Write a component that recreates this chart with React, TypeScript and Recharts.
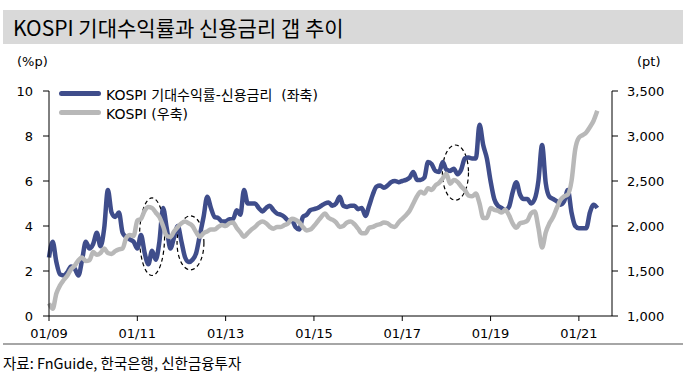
import React from 'react';
import { LineChart, Line, XAxis, YAxis, ReferenceArea } from 'recharts';

// Monthly data, Jan 2009 (index 0) to Jun 2021 (index 149)
const gapValues = [
  2.6, 3.3, 2.4, 1.85, 1.8, 1.95, 2.2, 2.1, 1.8, 2.5,
  3.3, 3.0, 3.2, 3.7, 3.1, 3.9, 5.6, 4.6, 4.4, 4.6,
  3.7, 3.5, 3.4, 3.3, 3.0, 3.6, 2.8, 2.3, 2.9, 2.5,
  3.3, 4.8, 3.9, 3.0, 3.5, 4.0, 3.3, 2.6, 2.4, 2.5,
  2.8, 3.6, 4.4, 5.3, 4.8, 4.4, 4.35, 4.2, 4.2, 4.3,
  4.3, 4.7, 4.5, 5.6, 5.0, 5.0, 5.0, 4.8, 4.65, 4.8,
  4.9, 4.7, 4.55, 4.5, 4.4, 4.25, 4.25, 3.95, 3.85, 4.4,
  4.5, 4.7, 4.75, 4.8, 4.9, 5.0, 5.05, 4.9, 5.0, 5.3,
  4.9, 4.85, 4.9, 4.9, 4.75, 4.8, 4.45, 4.9, 5.4, 5.75,
  5.8, 5.7, 5.8, 5.95, 6.0, 5.95, 6.0, 6.05, 6.15, 6.4,
  6.05, 6.05, 6.15, 6.85, 6.75, 6.45, 6.4, 6.85, 6.5, 6.45,
  6.55, 6.3, 6.5, 7.0, 7.05, 7.0, 7.0, 8.5, 7.6, 7.0,
  6.0, 5.2, 4.9, 4.8, 4.7, 4.85, 5.5, 5.95, 5.4, 5.2,
  5.2, 5.0, 5.2, 6.0, 7.6, 5.9, 5.3, 5.2, 5.1, 4.95,
  5.1, 5.6, 4.6, 4.0, 3.9, 3.9, 3.9, 4.6, 4.95, 4.8,
];

const kospiValues = [
  1140, 1080, 1250, 1340, 1400, 1450, 1520, 1560, 1620, 1650,
  1610, 1620, 1710, 1680, 1700, 1750, 1700, 1690, 1720, 1740,
  1750, 1870, 1900, 1890, 2060, 2080, 2170, 2210, 2200, 2150,
  2100, 2000, 1890, 1880, 1940, 1990, 2030, 2050, 2030, 2000,
  1930, 1880, 1920, 1940, 1960, 1960, 1990, 2010, 2000, 2030,
  2040, 1980, 1930, 1880, 1920, 1960, 1990, 2030, 2050, 2030,
  1990, 1970, 1990, 1990, 2010, 2030, 2080, 2070, 2040, 1990,
  1950, 1960, 2000, 2050, 2100, 2140, 2090, 2070, 2040, 1990,
  2000, 2040, 2050, 2020, 1970, 1920, 1920, 1980, 1990, 2010,
  2020, 2040, 2030, 2000, 1990, 2040, 2080, 2120, 2170, 2250,
  2330, 2380, 2360, 2420, 2400, 2450, 2480, 2530, 2580, 2470,
  2510, 2490, 2440, 2400, 2340, 2330, 2360, 2250, 2090, 2090,
  2200, 2180, 2170, 2150, 2180, 2120, 2030, 1980, 2030, 2040,
  2060, 2140, 2160, 1980, 1760, 1930, 2030, 2100, 2200, 2290,
  2330, 2350, 2500, 2850, 2980, 3010, 3040, 3100, 3170, 3280,
];

const xTickIndex = [0, 24, 48, 72, 96, 120, 144];
const xTickLabels = ['01/09', '01/11', '01/13', '01/15', '01/17', '01/19', '01/21'];
const leftTicks = [0, 2, 4, 6, 8, 10];
const rightTicks = [1000, 1500, 2000, 2500, 3000, 3500];

const seriesNames = ['KOSPI 기대수익률-신용금리  (좌축)', 'KOSPI (우축)'];
const title = 'KOSPI 기대수익률과 신용금리 갭 추이';
const source = '자료: FnGuide, 한국은행, 신한금융투자';

// highlighted regions (month index range, left-axis value range)
const highlights = [
  { x1: 24.6, x2: 31.4, y1: 1.8, y2: 5.25 },
  { x1: 34.8, x2: 42.1, y1: 2.05, y2: 4.45 },
  { x1: 106.9, x2: 114.0, y1: 5.15, y2: 7.6 },
];

const data = gapValues.map((g, i) => ({ t: i, gap: g, kospi: kospiValues[i] }));

const BLUE = '#3f4d8b';
const GREY = '#b8b8b8';
const tickFont = { fontFamily: "'DejaVu Sans', sans-serif", fontSize: 13, fill: '#000' };

const EllipseShape = (props: any) => {
  const { x, y, width, height } = props;
  return (
    <ellipse
      cx={x + width / 2}
      cy={y + height / 2}
      rx={Math.abs(width) / 2}
      ry={Math.abs(height) / 2}
      fill="none"
      stroke="#000"
      strokeWidth={1.2}
      strokeDasharray="4 3"
    />
  );
};

export default function App() {
  return (
    <div style={{ position: 'absolute', left: 0, top: 0, width: 683, height: 380, background: '#fff', overflow: 'hidden' }}>
      <div style={{ position: 'absolute', left: 3, top: 10, width: 680, height: 34, background: '#d9d9d9' }} />
      <div
        style={{
          position: 'absolute', left: 13, top: 10, height: 34, lineHeight: '34px',
          fontFamily: "'Noto Sans CJK KR', sans-serif", fontSize: 21, color: '#000', whiteSpace: 'nowrap',
        }}
      >
        {title}
      </div>
      <div style={{ position: 'absolute', left: 17, top: 53, lineHeight: '18px', fontFamily: "'DejaVu Sans', sans-serif", fontSize: 13 }}>(%p)</div>
      <div style={{ position: 'absolute', left: 637, top: 53, lineHeight: '18px', fontFamily: "'DejaVu Sans', sans-serif", fontSize: 13 }}>(pt)</div>

      <div style={{ position: 'absolute', left: 0, top: 0 }}>
        <LineChart width={683} height={380} data={data} margin={{ top: 91, right: 0, bottom: 34, left: 0 }}>
          <XAxis
            dataKey="t"
            type="number"
            domain={[0, 153]}
            ticks={xTickIndex}
            tickFormatter={(v: number) => xTickLabels[xTickIndex.indexOf(v)] ?? ''}
            height={30}
            tickSize={5}
            tickMargin={8}
            tick={tickFont}
            stroke="#000"
            axisLine={{ stroke: '#000', strokeWidth: 1 }}
            tickLine={{ stroke: '#000' }}
          />
          <YAxis
            yAxisId="left"
            domain={[0, 10]}
            ticks={leftTicks}
            width={49}
            tickSize={6}
            tickMargin={10}
            tick={tickFont}
            axisLine={{ stroke: '#000', strokeWidth: 1 }}
            tickLine={{ stroke: '#000' }}
          />
          <YAxis
            yAxisId="right"
            orientation="right"
            domain={[1000, 3500]}
            ticks={rightTicks}
            width={71}
            tickSize={6}
            tickMargin={9}
            tick={tickFont}
            tickFormatter={(v: number) => v.toLocaleString('en-US')}
            axisLine={{ stroke: '#000', strokeWidth: 1 }}
            tickLine={{ stroke: '#000' }}
          />
          <Line
            yAxisId="left"
            dataKey="gap"
            type="monotone"
            stroke={BLUE}
            strokeWidth={4.5}
            dot={false}
            isAnimationActive={false}
          />
          <Line
            yAxisId="right"
            dataKey="kospi"
            type="monotone"
            stroke={GREY}
            strokeWidth={4.5}
            dot={false}
            isAnimationActive={false}
          />
          {highlights.map((h, i) => (
            <ReferenceArea
              key={i}
              yAxisId="left"
              x1={h.x1}
              x2={h.x2}
              y1={h.y1}
              y2={h.y2}
              shape={EllipseShape}
              ifOverflow="visible"
            />
          ))}
        </LineChart>
      </div>

      <div style={{ position: 'absolute', left: 59, top: 84, fontFamily: "'DejaVu Sans', 'Noto Sans CJK KR', sans-serif", fontSize: 14, color: '#000' }}>
        {[BLUE, GREY].map((c, i) => (
          <div key={i} style={{ display: 'flex', alignItems: 'center', height: 19, whiteSpace: 'pre' }}>
            <div style={{ width: 42, height: 5, borderRadius: 2.5, background: c, marginRight: 5 }} />
            <span>{seriesNames[i]}</span>
          </div>
        ))}
      </div>

      <div style={{ position: 'absolute', left: 3, top: 343, width: 680, height: 2, background: '#a6a6a6' }} />
      <div
        style={{
          position: 'absolute', left: 3, top: 353, lineHeight: '20px',
          fontFamily: "'Noto Sans CJK KR', sans-serif", fontSize: 14.5, color: '#000', whiteSpace: 'nowrap',
        }}
      >
        {source}
      </div>
    </div>
  );
}
